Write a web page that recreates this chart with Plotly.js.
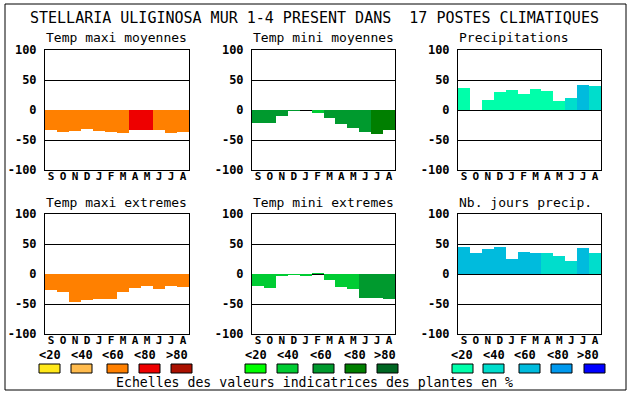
<!DOCTYPE html>
<html>
<head>
<meta charset="utf-8">
<script src="https://cdn.plot.ly/plotly-3.0.1.min.js"></script>
<style>html,body{margin:0;padding:0;background:#fff;}#chart{width:630px;height:394px;}</style>
</head>
<body>
<div id="chart"></div>
<script>
// ---- data ----
const months = ["S","O","N","D","J","F","M","A","M","J","J","A"];
const tickVals = [-100, -50, 0, 50, 100];
const tickLabels = ["-100", "-50", "0", "50", "100"];
const classLabels = ["<20", "<40", "<60", "<80", ">80"];

const titles = ["Temp maxi moyennes", "Temp mini moyennes", "Precipitations",
                "Temp maxi extremes", "Temp mini extremes", "Nb. jours precip."];
const mainTitle = "STELLARIA ULIGINOSA MUR 1-4 PRESENT DANS  17 POSTES CLIMATIQUES";
const caption = "Echelles des valeurs indicatrices des plantes en %";

const tmaxMoy   = [-33, -36, -34.5, -31, -34.5, -36, -38, -33, -33, -34, -38, -36];
const tmaxMoyCl = [2, 2, 2, 2, 2, 2, 2, 3, 3, 2, 2, 2];
const tminMoy   = [-22, -22, -10.5, -2, 0, -5.5, -13, -24, -30.5, -37, -40.5, -34];
const tminMoyCl = [2, 2, 2, 2, 2, 1, 2, 2, 2, 2, 3, 3];
const precip    = [37, 0, 17, 30.5, 34, 27, 35.5, 32, 15.5, 20.5, 42, 40.5];
const precipCl  = [0, 0, 0, 0, 0, 0, 0, 0, 0, 1, 2, 1];
const tmaxExt   = [-27, -30.5, -47, -44, -42, -42, -30.5, -24, -20.5, -25.5, -20.5, -22];
const tmaxExtCl = [2, 2, 2, 2, 2, 2, 2, 2, 2, 2, 2, 2];
const tminExt   = [-20.5, -24, -4, -2, -4, 2, -10, -22, -25.5, -40.5, -40.5, -42];
const tminExtCl = [1, 1, 1, 1, 1, 1, 1, 1, 1, 2, 2, 2];
const jours     = [45.5, 35.5, 42, 45.5, 25.5, 37, 35.5, 35.5, 30.5, 22, 44, 35.5];
const joursCl   = [2, 2, 2, 2, 2, 2, 2, 1, 1, 1, 2, 1];

// ---- styles ----
const redPal   = ["#FFE81A", "#FFBB4D", "#FF8000", "#EE0000", "#AA1100"];
const greenPal = ["#00FF00", "#00CC33", "#009A2E", "#007F00", "#006622"];
const bluePal  = ["#00FFAA", "#00DDCC", "#00BBDD", "#0099EE", "#0000FF"];

const W = 630, H = 394;
const px = x => x / W;
const py = y => 1 - y / H;

const series = [
  [tmaxMoy, tmaxMoyCl, redPal],
  [tminMoy, tminMoyCl, greenPal],
  [precip, precipCl, bluePal],
  [tmaxExt, tmaxExtCl, redPal],
  [tminExt, tminExtCl, greenPal],
  [jours, joursCl, bluePal]
];
const colX = [[45, 189], [252, 395], [458, 601]];
const rowY = [[50, 170], [214, 334]];

const mono = "DejaVu Sans Mono, monospace";
const traces = [];
const layout = {
  width: W, height: H,
  margin: {l: 0, r: 0, t: 0, b: 0},
  paper_bgcolor: "#fff", plot_bgcolor: "#fff",
  showlegend: false, bargap: 0,
  font: {family: mono, color: "#000"},
  annotations: [], shapes: []
};

const xIdx = months.map((m, i) => i);

series.forEach((s, k) => {
  const col = k % 3, row = Math.floor(k / 3);
  const ax = k === 0 ? "" : String(k + 1);
  traces.push({
    type: "bar",
    x: xIdx, y: s[0],
    marker: {color: s[1].map(c => s[2][c]), line: {width: 0}},
    xaxis: "x" + ax, yaxis: "y" + ax,
    hoverinfo: "none"
  });
  layout["xaxis" + ax] = {
    domain: [px(colX[col][0]), px(colX[col][1])],
    anchor: "y" + ax,
    range: [-0.5, 11.5],
    tickvals: xIdx, ticktext: months,
    tickfont: {family: mono, size: 11, weight: "bold", color: "#000"},
    ticks: "", ticklen: 0, ticklabelstandoff: -4,
    showline: true, mirror: true, linecolor: "#000", linewidth: 1,
    showgrid: false, zeroline: false, fixedrange: true
  };
  layout["yaxis" + ax] = {
    domain: [py(rowY[row][1]), py(rowY[row][0])],
    anchor: "x" + ax,
    range: [-100, 100],
    tickvals: tickVals, ticktext: tickLabels,
    tickfont: {family: mono, size: 12, weight: "bold", color: "#000"},
    ticks: "", ticklabelstandoff: 5,
    showline: true, mirror: true, linecolor: "#000", linewidth: 1,
    showgrid: true, gridcolor: "#000", gridwidth: 1,
    zeroline: true, zerolinecolor: "#000", zerolinewidth: 1,
    fixedrange: true
  };
  layout.annotations.push({
    text: titles[k], xref: "paper", yref: "paper",
    x: px(colX[col][0] - 1), y: py(row === 0 ? 38 : 202),
    xanchor: "left", yanchor: "middle", showarrow: false,
    font: {family: mono, size: 13, color: "#000"}
  });
});

// main title and caption
layout.annotations.push({
  text: mainTitle.replace(/ /g, "\u00A0"), xref: "paper", yref: "paper",
  x: px(314), y: py(18), xanchor: "center", yanchor: "middle", showarrow: false,
  font: {family: mono, size: 15, color: "#000"}
});
layout.annotations.push({
  text: caption, xref: "paper", yref: "paper",
  x: px(314), y: py(382), xanchor: "center", yanchor: "middle", showarrow: false,
  font: {family: mono, size: 13.2, color: "#000"}
});

// legend scales
const legendGroups = [
  {pal: redPal,   labelX: [49.5, 81.5, 113, 145, 177], boxX: [39, 71, 107, 139, 171]},
  {pal: greenPal, labelX: [255.5, 287.5, 321, 355, 385], boxX: [245, 277, 313, 345, 377]},
  {pal: bluePal,  labelX: [462, 493.5, 525, 558, 588], boxX: [452, 483, 519, 551, 584]}
];
legendGroups.forEach(g => {
  classLabels.forEach((lab, i) => {
    layout.annotations.push({
      text: lab, xref: "paper", yref: "paper",
      x: px(g.labelX[i]), y: py(355), xanchor: "center", yanchor: "middle",
      showarrow: false, font: {family: mono, size: 12, weight: "bold", color: "#000"}
    });
    layout.shapes.push({
      type: "rect", xref: "paper", yref: "paper",
      x0: px(g.boxX[i]), x1: px(g.boxX[i] + 21),
      y0: py(373), y1: py(364),
      fillcolor: g.pal[i], line: {color: "#000", width: 1}
    });
  });
});

// outer frame
layout.shapes.push({
  type: "rect", xref: "paper", yref: "paper",
  x0: px(5), x1: px(626), y0: py(390), y1: py(4),
  fillcolor: "rgba(0,0,0,0)", line: {color: "#000", width: 1}
});

Plotly.newPlot("chart", traces, layout, {staticPlot: true, displayModeBar: false});
</script>
</body>
</html>
